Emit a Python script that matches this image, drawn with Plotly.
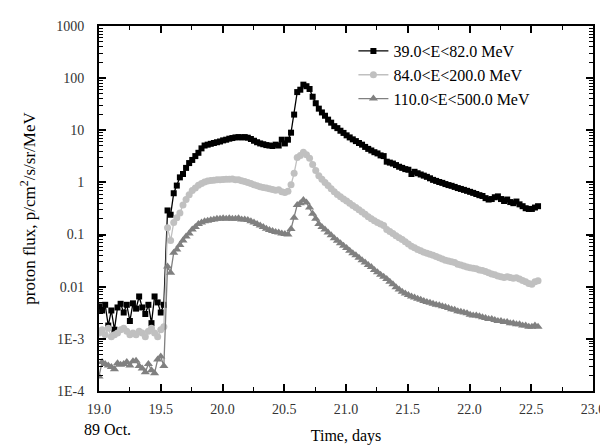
import numpy as np
import plotly.graph_objects as go

# ---- time grid (days of Oct 1989), regular sampling ----
t_pre = np.round(19.0 + 0.025 * np.arange(22), 3)
t_post = np.round(19.555 + 0.025 * np.arange(121), 3)

# ---- series values ----
e1_pre = [0.0042, 0.0035, 0.0045, 0.0018, 0.0035, 0.0015, 0.0040, 0.0047, 0.0032, 0.0045,
          0.0022, 0.0048, 0.0038, 0.0065, 0.0040, 0.0030, 0.0045, 0.0020, 0.0065, 0.0050,
          0.0032, 0.0045]
e1_post = [0.29, 0.24, 0.62, 0.87, 1.25, 1.45, 1.9, 2.35, 2.7, 3.2,
           3.7, 4.5, 5.1, 5.3, 5.5, 5.7, 5.9, 6.1, 6.4, 6.6,
           6.9, 7.1, 7.3, 7.4, 7.3, 7.4, 7.2, 6.8, 6.3, 5.9,
           5.6, 5.4, 5.2, 5.1, 5.0, 5.3, 5.1, 6.6, 5.6, 6.6,
           9.0, 20, 54, 60, 75, 70, 62, 44, 33, 26,
           22, 19, 16, 14, 12, 11, 9.8, 8.9, 8.0, 7.3,
           6.7, 6.2, 5.7, 5.3, 4.8, 4.4, 4.1, 3.8, 3.6, 3.3,
           3.2, 2.5, 2.4, 2.3, 2.15, 2.0, 1.9, 1.8, 1.75, 1.45,
           1.6, 1.5, 1.42, 1.35, 1.28, 1.2, 1.12, 1.07, 1.02, 0.98,
           0.93, 0.89, 0.86, 0.82, 0.78, 0.75, 0.72, 0.69, 0.66, 0.63,
           0.6, 0.57, 0.55, 0.50, 0.47, 0.48, 0.52, 0.54, 0.48, 0.44,
           0.47, 0.42, 0.40, 0.43, 0.38, 0.35, 0.32, 0.31, 0.31, 0.33,
           0.35]

e2_pre = [0.0013, 0.0015, 0.0012, 0.0016, 0.0011, 0.0012, 0.0013, 0.0015, 0.0016, 0.0014,
          0.0012, 0.0013, 0.0012, 0.0014, 0.0013, 0.0011, 0.0014, 0.0016, 0.0013, 0.0011,
          0.0015, 0.0017]
e2_post = [0.135, 0.077, 0.17, 0.21, 0.26, 0.37, 0.47, 0.58, 0.70, 0.78,
           0.88, 0.95, 1.02, 1.07, 1.09, 1.1, 1.12, 1.13, 1.14, 1.15,
           1.15, 1.16, 1.13, 1.12, 1.08, 1.04, 1.0, 0.95, 0.9, 0.86,
           0.83, 0.80, 0.78, 0.76, 0.73, 0.71, 0.72, 0.66, 0.64, 0.68,
           0.9, 1.5, 3.0, 3.3, 3.8, 3.4, 2.9, 2.2, 1.7, 1.35,
           1.15, 1.0, 0.87, 0.76, 0.66, 0.59, 0.53, 0.48, 0.44, 0.40,
           0.36, 0.33, 0.30, 0.27, 0.245, 0.22, 0.20, 0.185, 0.17, 0.16,
           0.15, 0.125, 0.115, 0.105, 0.095, 0.087, 0.080, 0.073, 0.066, 0.060,
           0.056, 0.052, 0.049, 0.046, 0.044, 0.042, 0.040, 0.038, 0.036, 0.034,
           0.032, 0.031, 0.030, 0.029, 0.027, 0.026, 0.025, 0.024, 0.023, 0.0225,
           0.022, 0.021, 0.0205, 0.0195, 0.0185, 0.0175, 0.017, 0.016, 0.0155, 0.015,
           0.0155, 0.015, 0.0145, 0.0148, 0.014, 0.0132, 0.0125, 0.0115, 0.0112, 0.0125,
           0.013]

e3_pre = [0.00019, 0.00036, 0.00033, 0.00031, 0.00029, 0.00026, 0.00034, 0.00032, 0.00033, 0.00036,
          0.00031, 0.00037, 0.00038, 0.00030, 0.00027, 0.00023, 0.00033, 0.00025, 0.00022, 0.00040,
          0.00046, 0.00030]
e3_post = [0.0245, 0.0185, 0.045, 0.052, 0.063, 0.077, 0.092, 0.105, 0.125, 0.14,
           0.16, 0.17, 0.18, 0.185, 0.19, 0.195, 0.2, 0.2, 0.205, 0.2,
           0.205, 0.2, 0.2, 0.205, 0.195, 0.195, 0.19, 0.18, 0.17, 0.16,
           0.15, 0.14, 0.13, 0.122, 0.117, 0.112, 0.11, 0.105, 0.102, 0.1,
           0.128, 0.21, 0.37, 0.40, 0.46, 0.41, 0.33, 0.25, 0.2, 0.16,
           0.14, 0.125, 0.11, 0.097, 0.085, 0.076, 0.068, 0.061, 0.055, 0.049,
           0.044, 0.04, 0.036, 0.032, 0.029, 0.026, 0.024, 0.021, 0.019, 0.017,
           0.0155, 0.014, 0.0125, 0.0112, 0.0098, 0.0088, 0.008, 0.0074, 0.0069, 0.0065,
           0.0062, 0.0059, 0.0056, 0.0053, 0.0051, 0.0049, 0.0047, 0.0045, 0.0044, 0.0042,
           0.0041, 0.0039, 0.0037, 0.0036, 0.0034, 0.0033, 0.0032, 0.0031, 0.0029, 0.0028,
           0.0028, 0.0027, 0.0026, 0.0025, 0.0024, 0.0024, 0.0023, 0.0022, 0.0022, 0.0021,
           0.0021, 0.002, 0.002, 0.0019, 0.0019, 0.0018, 0.0018, 0.0017, 0.0017, 0.0018,
           0.0017]

names = ["39.0&lt;E&lt;82.0 MeV", "84.0&lt;E&lt;200.0 MeV", "110.0&lt;E&lt;500.0 MeV"]
y_tickvals = [1e-4, 1e-3, 0.01, 0.1, 1, 10, 100, 1000]
y_ticktext = ["1E-4", "1E-3", "0.01", "0.1", "1", "10", "100", "1000"]
x_tickvals = [19.0, 19.5, 20.0, 20.5, 21.0, 21.5, 22.0, 22.5, 23.0]
x_minor = [19.25, 19.75, 20.25, 20.75, 21.25, 21.75, 22.25, 22.75]
y_minor = [m * 10.0 ** e for e in range(-4, 3) for m in range(2, 10)]

FONT = "Liberation Serif"
times = list(t_pre) + list(t_post)

series = [
    (e1_pre + e1_post, "#000000", "square", 6),
    (e2_pre + e2_post, "#c0c0c0", "circle", 7),
    (e3_pre + e3_post, "#808080", "triangle-up", 8),
]

fig = go.Figure()
for (vals, col, sym, sz), nm in zip(series, names):
    fig.add_trace(go.Scatter(
        x=times, y=vals, name=nm, mode="lines+markers",
        line=dict(color=col, width=1.3),
        marker=dict(color=col, symbol=sym, size=sz, line=dict(width=0)),
    ))

fig.update_layout(
    width=608, height=445,
    margin=dict(l=91, r=11, t=15, b=53),
    paper_bgcolor="white", plot_bgcolor="white",
    font=dict(family=FONT, color="black", size=14),
    showlegend=True,
    legend=dict(x=0.515, y=0.978, xanchor="left", yanchor="top",
                bgcolor="rgba(0,0,0,0)", font=dict(size=16, family=FONT),
                itemwidth=30, tracegroupgap=0),
    annotations=[dict(text="89 Oct.", xref="paper", yref="paper", x=-0.034, y=-0.106,
                      xanchor="left", yanchor="middle", showarrow=False,
                      font=dict(size=16, family=FONT))],
)
fig.update_xaxes(
    range=[19.0, 23.0], tickvals=x_tickvals, tickformat=".1f",
    showgrid=False, zeroline=False,
    showline=True, linecolor="black", linewidth=2, mirror="allticks",
    ticks="inside", ticklen=7, tickwidth=1.5, tickcolor="black",
    tickfont=dict(size=14, color="#333333"), ticklabelstandoff=4,
    minor=dict(ticks="inside", ticklen=4, tickwidth=1.2, tickcolor="black",
               tickmode="array", tickvals=x_minor, showgrid=False),
    title=dict(text="Time, days", font=dict(size=16, family=FONT), standoff=14),
)
fig.update_yaxes(
    type="log", range=[-4, 3], tickvals=y_tickvals, ticktext=y_ticktext,
    showgrid=False, zeroline=False,
    showline=True, linecolor="black", linewidth=2, mirror="allticks",
    ticks="inside", ticklen=7, tickwidth=1.5, tickcolor="black",
    tickfont=dict(size=14, color="#333333"), ticklabelstandoff=10,
    minor=dict(ticks="inside", ticklen=4, tickwidth=1.2, tickcolor="black",
               tickmode="array", tickvals=y_minor, showgrid=False),
    title=dict(text="proton flux, p/cm<sup>2</sup>/s/sr/MeV", font=dict(size=17, family=FONT), standoff=16),
)

fig.write_html("out.html")
